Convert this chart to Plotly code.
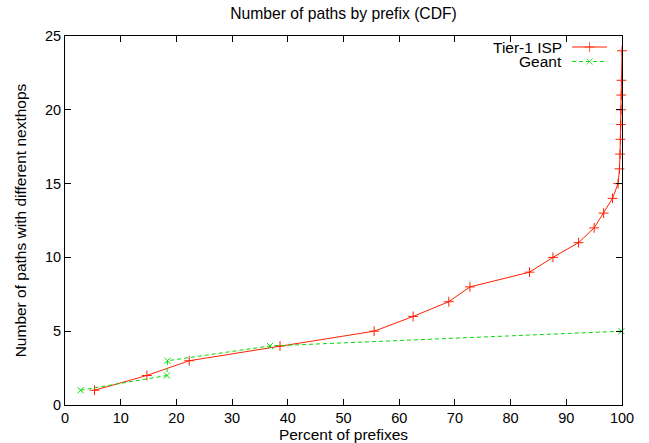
import plotly.graph_objects as go

# Tier-1 ISP CDF
tier1_x = [5.3, 14.7, 22.3, 38.6, 55.5, 62.5, 68.9, 72.7, 83.4, 87.6, 92.2, 95.0, 96.7, 98.3,
           99.3, 99.55, 99.65, 99.72, 99.78, 99.83, 99.87, 99.9, 100.0]
tier1_y = [1, 2, 3, 4, 5, 6, 7, 8, 9, 10, 11, 12, 13, 14, 15, 16, 17, 18, 19, 20, 21, 22, 24]

# Geant CDF
geant_x = [2.8, 18.3, 18.4, 36.8, 99.9]
geant_y = [1, 2, 3, 4, 5]

x_ticks = [0, 10, 20, 30, 40, 50, 60, 70, 80, 90, 100]
y_ticks = [0, 5, 10, 15, 20, 25]

RED = "#ff2000"
GREEN = "#00dd00"
FONT = "Liberation Sans, Arial, Helvetica, sans-serif"
GREEN_DASH = "4px,3px"

fig = go.Figure()
fig.add_trace(go.Scatter(
    x=tier1_x, y=tier1_y, mode="lines+markers", name="Tier-1 ISP",
    line=dict(color=RED, width=1),
    marker=dict(symbol="cross-thin-open", size=7, line=dict(color=RED, width=1)),
    showlegend=False, cliponaxis=False,
))
fig.add_trace(go.Scatter(
    x=geant_x, y=geant_y, mode="lines+markers", name="Geant",
    line=dict(color=GREEN, width=1, dash=GREEN_DASH),
    marker=dict(symbol="x-thin-open", size=6, line=dict(color=GREEN, width=1)),
    showlegend=False, cliponaxis=False,
))

# Custom gnuplot-style legend (text left, sample right) on a pixel overlay axis
W, H = 557, 369
leg_rows = [("Tier-1 ISP", RED, "cross-thin-open", "solid", 7), ("Geant", GREEN, "x-thin-open", GREEN_DASH, 6)]
for i, (lab, col, sym, dash, ms) in enumerate(leg_rows):
    yy = H - 11 - 14.5 * i
    fig.add_trace(go.Scatter(
        x=[507, 524.5, 542], y=[yy, yy, yy], mode="lines+markers", xaxis="x2", yaxis="y2",
        line=dict(color=col, width=1.2, dash=dash),
        marker=dict(symbol=sym, size=[0, ms, 0], color=col, line=dict(color=col, width=1)),
        showlegend=False, hoverinfo="skip", cliponaxis=False,
    ))
    fig.add_annotation(x=499, y=yy, xref="x2", yref="y2", text=lab, showarrow=False,
                       xanchor="right", yanchor="middle", font=dict(size=15.5, color="black", family=FONT))

fig.update_layout(
    width=649, height=443,
    margin=dict(l=65, r=27, t=36, b=38),
    paper_bgcolor="white", plot_bgcolor="white",
    font=dict(family=FONT, size=14.5, color="black"),
    title=dict(text="Number of paths by prefix (CDF)", x=(65 + 278.5) / 649, xanchor="center",
               y=1 - 14 / 443, yanchor="middle", font=dict(size=15.7)),
    xaxis=dict(range=[0, 100], tickvals=x_ticks, ticks="inside", ticklen=6, tickcolor="black",
               showline=True, linecolor="black", linewidth=1, mirror="ticks", showgrid=False,
               zeroline=False, automargin=False,
               title=dict(text="Percent of prefixes", standoff=0, font=dict(size=15.5))),
    yaxis=dict(range=[0, 25], tickvals=y_ticks, ticks="inside", ticklen=6, tickcolor="black",
               showline=True, linecolor="black", linewidth=1, mirror="ticks", showgrid=False,
               zeroline=False, automargin=False,
               title=dict(text="Number of paths with different nexthops", standoff=14, font=dict(size=15.5))),
    xaxis2=dict(range=[0, W], overlaying="x", visible=False, fixedrange=True),
    yaxis2=dict(range=[0, H], overlaying="y", visible=False, fixedrange=True),
)

fig.write_html("out.html")
